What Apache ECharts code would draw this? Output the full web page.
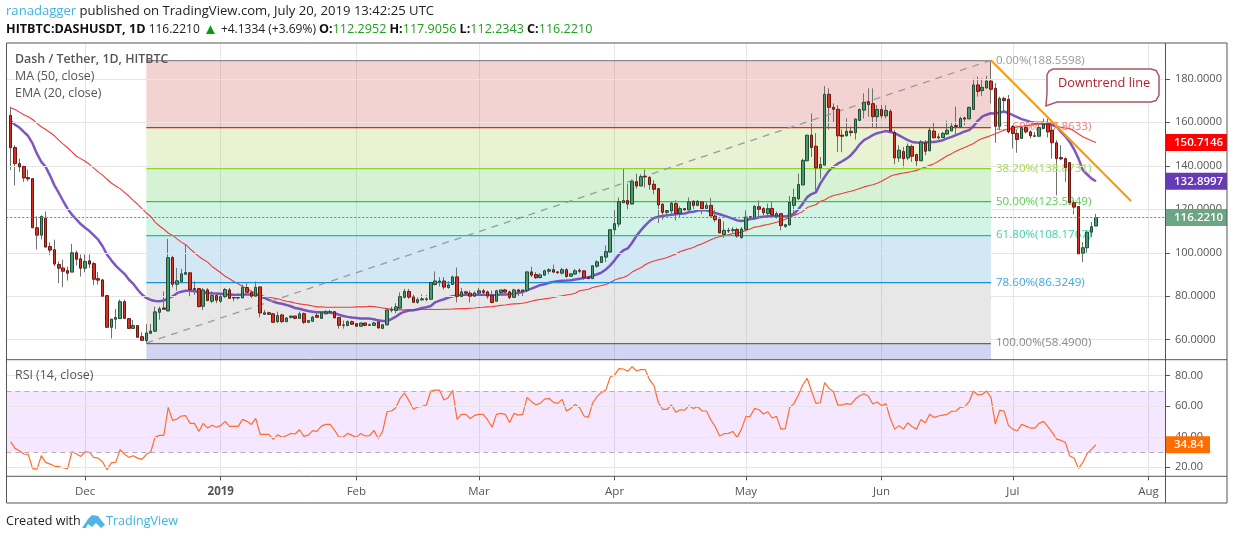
<!DOCTYPE html>
<html><head><meta charset="utf-8">
<style>html,body{margin:0;padding:0;background:#fff}#c{width:1234px;height:540px}</style>
<script src="https://cdn.jsdelivr.net/npm/echarts@6/dist/echarts.min.js"></script>
</head><body><div id="c"></div>
<script>
const opens=[163.2,148.4,141,139.7,134.6,134.1,111.5,108.1,115.8,102.9,101.4,94.6,93,91.8,91.1,100,97.2,92.9,96.3,95,88.1,87.5,80.3,65.7,69.4,69.7,77.5,69.7,65.2,66.5,61.4,59.6,62.9,63.9,72.6,74.6,73.2,97.8,85.5,86.8,90.1,90.8,83.5,83.5,75.4,82.9,77.7,80.3,77.7,79.8,82.9,79.4,79.2,79.2,84,81.8,80,84.3,71.7,72.4,71.9,68.3,71.4,68.3,70.3,70.9,69.8,72,68,68.5,71.2,69.8,71.9,72.7,72.9,70.2,66.6,66.5,68.3,67.4,66.2,67.7,66.6,66.6,68.2,65.2,66.8,73.5,73.5,74.5,79.5,82.2,79.7,77.2,78.3,78.5,78.6,85.4,86.5,87,84,85.4,88.9,79.9,82,81.4,80,81.4,82.5,82,80.3,77.7,81.7,82.9,82,79.5,82.9,82.2,82.6,91.2,90,88.6,89.7,91.5,92.2,91.2,90.6,92.2,89.2,90.2,91.9,91.7,88.9,88.1,93.8,95.5,98,100.3,110.6,113.2,123,124,122.4,132.7,130.7,135.2,134.7,131.5,129.5,122.3,118.6,119.2,122.6,118.1,120.3,119.7,123.7,121.8,123.4,120.4,121.8,116.9,115.4,108.4,110.3,110.2,110.7,107,110.8,116.6,116.1,121.2,120.3,118.1,120.4,116.9,118,112.1,112.8,121.8,124.8,131.2,142.3,154.1,149,139,140.3,172.9,166.9,166,154.1,153.8,155.9,155.2,160.9,165.6,169.5,168.6,162.6,165.9,163,165,155.3,143.6,146.6,143.6,148.9,145.2,142.3,150.6,146.9,156,153.3,153,154.6,156,158.5,157.9,162,161.6,165.9,177.2,174.6,175.8,179,175.6,158.2,171,170.6,158,154.9,152.6,157.6,155.6,153.8,153.6,157.2,159.2,156.4,150.6,143.8,143.3,141.5,123,121.3,99.8,102.3,109.5,112.2952];
const closes=[148.3,141,139.5,134.4,134,111.5,108.1,116.7,102.6,101.2,94.8,92.9,91.5,90.6,100,97,92.9,96,94.8,87.8,87.4,80,65.7,69.5,70.2,77.5,69.8,65.2,66.5,61.1,59.7,63.1,64,72.8,74.2,74,97.7,85.5,87.1,90.3,90.9,83.1,83.1,75.2,82.9,78,80.3,78.2,79.8,83.1,79,79.2,79.4,84,81.8,80,84.1,72.3,72.4,71.7,68,71.1,68.3,70,70.9,69.8,71.9,68,68.8,70.4,70.3,72.4,72.8,72.9,70,66.6,66.8,68.3,67.1,66.2,67.7,66.6,66.9,67.7,65.4,66.9,73.7,74,75.1,79.8,82.2,79.6,77.2,78.4,78.8,78.8,86.3,87,87,84.2,85.2,88.9,79.9,82,81.4,80,81.5,82.5,81.7,80,77.1,82.5,82.9,81.9,79.4,82.9,82.2,82.9,91.2,89.7,88.5,89.8,91.7,92.2,91.1,90.8,92.2,89.1,90.3,91.7,91.5,88.6,88.1,94,95.8,98.2,100.5,110.6,113.4,123.5,124,122.4,132.7,130.7,135,134.9,131.4,129.2,122,118.6,119.4,122.8,118.1,120.3,119.7,123.4,121.8,123.7,120.3,121.8,116.9,115.2,109.1,110.3,110,110.6,107.7,110.9,116.4,116.2,121.4,120,118.4,120.3,117.4,118,112.5,112.9,123.2,125.4,131.4,142.5,154.1,148.4,139,140.6,172.9,166.9,166,153.8,153.6,155.9,155.3,161.5,165.9,169.2,168.2,162.6,165.9,163,165.5,156,143.6,147.2,143.3,149,144.4,142.3,151,146.7,156.4,152.9,152.9,154.9,156.4,158.2,158.1,161.8,161.5,166.9,177.2,174.2,176.1,179,175.2,158.2,171,170,155.6,154.9,152.1,157.6,155.6,153.8,153.6,157.6,159.2,155.6,150.6,143.3,143.2,139.2,123,121,99.5,102.3,109.5,112,116.221];
const lows=[138,131,137.2,132.6,132.9,111.3,101.5,106.1,102.6,98.9,93.9,86,84.1,87.2,91.1,94.1,89,91,93,85.1,85.4,80,65.7,60.6,65,69.7,69.8,65,65.2,61.1,59.6,58.49,62.9,63.9,69.2,74,73.2,84.1,82.6,86.8,90.1,79.5,80.6,74.9,73.7,77.7,76.9,76.8,76.9,79.2,78.8,77.7,78.5,79.2,81.8,79.2,80,70.3,71.4,71.4,68,67.7,67.7,68.3,69.7,69.5,69.8,67.2,68,68.2,70,69.8,71.7,72.4,70,65.1,65.1,66.2,66.9,66,66.2,66.2,66.4,66.6,65.1,65.2,66.8,72.6,72.2,74.2,79,78.8,77,76.5,78,77.7,78.6,84.9,84.5,83.1,83.4,85.4,77.2,79.5,80.8,77.1,80,81.1,81,78.8,76.8,77.7,81,81.5,78.6,79.5,80,80,81.8,88.8,88,88.2,89.4,90.3,90.6,90.3,90,88.5,89.2,89.8,90.6,87.5,88,88.1,93,95.5,95.7,100.3,108.4,111.8,123,119.5,122.4,129.5,130.7,130,129,126.9,113.7,115.2,116.8,118,114.9,116,119.5,119.5,119.8,121.4,117.7,119.5,116.9,114.1,109.1,106.9,109.1,109.2,106.9,106.4,110.8,116.1,116.1,116.4,117.2,116.4,116.4,115.7,110.3,111.5,112.6,118,124.2,131.2,142,144.1,128.7,134.1,140.3,156.7,160.2,146.4,146.4,153.6,153.6,152.1,160.6,161.8,162.6,157.6,157.2,161.8,161.8,156,140.7,141.8,139.2,142.6,141.8,139.5,142.3,144.9,146.9,152.6,152.1,153,154.3,156,154.6,157.9,158.7,161.6,165.9,171.8,172.1,175.6,168.7,150.6,156.4,164.9,154.9,148,146,152.6,154.9,152.6,153.3,153.6,157.2,153,143.3,126.4,142.6,132.6,123,117.7,99.5,95.7,100,107.2,112.2343];
const highs=[167.2,149.5,143.3,140,138.3,134.1,116.7,117.2,119,104.8,106,96,96.8,93.7,104.1,101,99.2,99.2,99.2,95.7,91.2,88,80.3,69.5,74.2,78.5,78.5,69.7,69.1,66.5,63.4,67.2,67.2,75.2,75.2,82.2,106.4,98.6,93,92.6,103.8,90.8,86.9,83.8,83.8,83.8,82.3,81.4,81,83.8,83.8,81.4,81.4,85.4,86,82.6,86.8,84.3,73.7,72.9,72.3,72.9,71.9,70.4,70.9,70.9,72.9,72.5,68.8,71,72.9,73,73.7,73.7,73.2,70.2,68.8,68.9,68.8,67.7,67.7,67.7,67.4,68.3,68.2,66.9,73.7,75.2,76.8,81.8,83.4,83.4,80.7,79.5,80.8,80.5,86.3,91.4,88.8,88.8,86.9,89.5,93.2,83.8,82.6,82.6,82.3,83.8,83.4,82.6,82.6,83,82.9,83.4,82.6,83.4,83.4,82.9,91.2,93.5,91.1,90.6,92.2,92.9,94.5,91.5,93.1,92.9,90.3,92.6,92.8,91.7,89,94,96.5,98.3,103.4,110.6,119.8,125.4,138.7,131.8,133.7,136.4,136.1,138.3,135.2,133.4,129.5,122.9,119.8,123.4,124.1,121.4,120.3,125.4,124.1,124.1,123.8,123.4,125.2,120.3,115.4,114.4,111.5,111.8,111.5,111.8,119.5,116.8,121.8,124.1,121,122.6,123.4,119,118,113,126.1,129.5,136.4,143.3,154.1,164.1,155,144.1,176.7,175.6,168.7,167.9,156.7,161.8,158,161.8,166.4,173.3,175.6,175.6,167.9,167.9,167.9,166,156.4,149.5,148.7,150.3,149.8,145.6,151.8,151.8,157.6,159.8,154.9,155.6,160.7,160.2,167.2,162.6,162.6,167.2,180.2,181,180.2,181.3,188.56,178,171.8,171.8,172.6,158.7,156.4,158.2,158.7,156.4,155.6,158.7,161.8,161.8,158.7,151.8,149.5,143.8,141.5,124.1,121.3,104.9,110.3,114.1,117.9056];
const ma50=[166.7,165.9,164.7,163.5,162.6,161.3,159.5,158,156.7,155.3,153.8,151.8,150,148.3,146.4,144.4,143.3,142.1,140.7,138.9,137.2,135.7,133.8,132.1,130.7,129.5,127.8,126.1,124.1,122.3,120.3,118.3,116.7,114.1,112.3,110.8,109.1,108,106.4,104.9,103.7,101.8,100,98.3,96.9,95.7,93.7,92.3,90.8,89.2,88,86.8,85.7,84.5,83.4,82.3,81.4,80.6,80,79.5,79.2,78.8,78.3,77.7,77.4,76.9,76.5,76.2,75.9,75.5,75.1,75.1,74.9,74.9,74.9,74.9,74.9,74.9,74.9,75.1,75.1,75.1,75.4,75.2,74.9,74.6,74.3,74,73.8,73.7,73.7,73.7,73.8,73.8,73.9,73.9,74,73.9,73.9,74,74,74.1,74.2,74.3,74.3,74.5,74.6,74.8,74.9,75.1,75.2,75.5,75.8,76,76.3,76.5,76.6,76.8,77.2,77.7,78.2,78.5,78.8,79.1,79.4,79.9,80.2,80.6,80.9,81.4,82.5,82.9,83.2,84,84.5,84.9,85.4,86.3,87.5,88.2,88.6,89.5,91.1,92.2,93.1,94.5,95.5,96.2,96.8,97.2,97.8,98.6,99.4,100.6,101.2,101.8,102.4,103.4,104.1,105.1,106,106.8,107.4,107.8,108.3,108.8,109.1,109.5,110.3,110.9,111.8,112.1,112.6,113,113.5,114,114.6,115.4,116.4,117.2,118,119,120.8,121.5,122.1,123.7,124.3,125.5,126.3,126.8,127.3,127.8,128.3,128.9,129.6,130.3,130.8,131.3,132,132.9,134,135.2,135.9,136.3,136.7,137,137.4,137.9,138.6,139.4,140.2,141,142.1,143.4,144.6,145.6,146.7,147.6,148.4,149.3,150.3,151.6,152.6,153.2,153.9,154.8,155.6,156.4,157,157.4,157.9,158.2,158.4,158.7,159,159.2,159.1,158.9,158.6,158.2,157.7,157.4,157.2,156,154.6,153.4,152.4,151.5,150.7146];
const ema20=[160.6,158.9,157.6,155.6,153.7,150.3,145.6,141.8,139.5,135.5,131,127.5,123.8,120.3,117.5,115.4,113.2,111.5,110,108,106,103,99.2,96.5,94.1,92.1,90.3,87.7,85.7,83.1,80.8,79.2,78.3,77.8,77.7,78,79.1,79.9,81.4,82.1,82.5,82.5,82.3,82.1,81.8,81.5,81.4,81.2,81.1,80.9,80.8,80.6,80.6,80.8,80.8,80.8,80.6,80,79.2,78.3,77.5,76.9,76.5,76,75.4,74.6,74.2,73.7,73.2,72.9,72.6,72.6,72.6,72.4,72.2,71.5,70.9,70.5,70.2,70,69.8,69.8,69.7,69.4,68.9,68.6,68.6,69.5,70.6,72,72.9,73.4,73.5,74,74.6,74.9,75.5,77.2,78,78.6,79.4,80,80.3,80.5,80.6,80.6,80.6,80.6,80.6,80.6,80.5,80.6,80.8,80.8,80.9,81.2,81.5,82,82.8,83.5,84.3,85.1,85.5,86.2,86.6,86.9,87.1,87.2,87.4,87.7,88,88.5,88.6,89.4,90.1,90.9,92.3,94.2,96.5,99.2,101.1,102,104.6,107.8,110.3,112.6,114.6,116,116.6,116.9,117.2,117.5,117.7,118,118.1,118.6,118.9,119.4,119.5,119.5,119,118.3,117.7,117.1,116.4,115.7,114.9,114.6,114.9,115.5,115.8,116.3,116.6,116.8,116.9,116.9,116.8,116.7,117.2,118,120,122.6,125.6,127,127.8,131.8,134.9,137.8,139.5,141,142.1,143.3,144.9,147.2,149.9,151.8,152.9,154.1,155,155.5,156,155.6,155,154,152.9,151.8,151,150.7,150.6,150.7,150.9,151,151.3,151.8,152.6,153.3,154.1,154.9,155.8,156.4,158.2,160.7,162.6,163.5,164.2,164.1,164.5,165,164.2,163.3,162.4,161.5,160.9,160.2,159.8,159.8,159.8,159.6,158.9,158.1,155.6,153.6,151,147.6,143.3,138,136,134.1,132.8997];
const rsi14=[36.8,32.4,30.9,28.7,28.5,19.3,18.6,27.6,23.2,22.1,20.8,20.4,19.7,19.1,30.2,28.9,27.1,30.2,29.8,26.5,26,23.6,18.4,23,23.2,31.5,28.7,26.5,27.6,26,25.2,28.5,30,39.8,40.9,40.9,59.3,50.7,51.6,53.6,53.8,48.8,48.8,43.5,48.8,45.7,47.5,46.2,47.3,50.1,46.8,46.8,46.8,51.4,50.1,48.1,52,41.6,41.6,41.6,38.3,41.4,39.6,40.7,42.2,41.8,44.6,40.3,41.1,44,43.5,47,48.1,48.1,44.4,39.8,39.8,42.2,40.9,39.6,42.2,40.5,40.7,44.2,38.9,43.5,56.4,56.9,59,65.2,68.7,63.7,58,59.5,59.9,60.8,70,70.6,70.6,64.1,65.8,70.4,51.4,54.7,54.7,52,54,54.7,54.7,51,46.2,54.7,55.3,54.7,49.4,55.3,54.2,54.7,65.8,63,61,61.9,64.7,65.2,62.6,61.9,64.5,56.9,58.6,61.2,59,53.6,52.7,62.3,66.3,69.1,70.6,79.2,80.5,84.6,84.4,82.9,86,83.1,84,84,77.2,73.7,62.3,58,58,60.8,56,57.7,57.5,60.4,58.6,59.7,56.9,56.9,51,46.6,40.5,42,42.2,43.5,39.6,45,53.2,53.4,58.6,57.7,54.9,56.4,52.3,53.4,45,45.3,59,61.9,67.4,73.9,78.3,70,61.9,62.3,75.5,71.7,69.5,60.8,60.8,61.7,61.2,64.7,66.9,68.2,66.5,61.5,62.8,60.4,61.7,52,45,47.3,45,49.2,46.6,45,51.4,49,54.7,52.7,53.6,54.2,54.7,56.7,56.9,59.3,59.7,63,70,67.4,67.8,70,65.8,48.3,57.3,56.9,47.3,45,43.8,48.1,47,45.7,45.7,48.8,50.1,46.6,42.9,38.5,37.6,36.3,27.4,26.1,19.3,23.2,29.1,31.9,34.84];
const priceTicks=[60,80,100,120,140,160,180];
const rsiTicks=[20,40,60,80];
const tickDates=['2018-12-01','2019-01-01','2019-02-01','2019-03-01','2019-04-01','2019-05-01','2019-06-01','2019-07-01','2019-08-01'];
const tickLabels=['Dec','2019','Feb','Mar','Apr','May','Jun','Jul','Aug'];
const fibPercents=['0.00%','23.60%','38.20%','50.00%','61.80%','78.60%','100.00%'];
const fibPrices=[188.5598,157.8633,138.8731,123.5249,108.1767,86.3249,58.49];
const fibLineColors=['#8a8a8a','#e0281c','#8fd81a','#35c835','#12c890','#1a90d8','#666666'];
const fibLabelColors=['#9a9a9a','rgba(230,80,70,.75)','#a6d84c','#5ccb5c','#45d0a8','#45a5dc','#8a8a8a'];
const fibFills=['rgba(195,35,25,.2)','rgba(145,195,35,.2)','rgba(45,195,40,.2)','rgba(30,200,135,.2)','rgba(30,140,200,.2)','rgba(135,135,135,.2)','rgba(35,40,195,.2)'];
const lastMA=150.7146, lastEMA=132.8997, lastClose=116.2210, lastRSI=34.84;
const PRICE_MIN=50.8, PRICE_MAX=196.5, RSI_MIN=14.1, RSI_MAX=90.5;
const FONT='"Open Sans","Noto Sans",sans-serif';

const dates=[];
for(let i=0;i<266;i++){dates.push(new Date(Date.UTC(2018,10,13+i)).toISOString().slice(0,10));}
const fibStart=dates.indexOf('2018-12-15'), fibEnd=dates.indexOf('2019-06-26');
const isTick=(i,v)=>tickDates.includes(v);
const pad=a=>['-'].concat(a);
const wickData=[['-','-','-','-']].concat(opens.map((o,i)=>[o,closes[i],lows[i],highs[i]]));
const bodyData=[['-','-','-','-']].concat(opens.map((o,i)=>[o,closes[i],Math.min(o,closes[i]),Math.max(o,closes[i])]));

const fibAreas=fibPrices.map((p,k)=>[
  {coord:[fibStart,p],itemStyle:{color:fibFills[k]}},
  {coord:[fibEnd,k<fibPrices.length-1?fibPrices[k+1]:PRICE_MIN]}
]);
const fibLines=fibPrices.map((p,k)=>[
  {coord:[fibStart,p],lineStyle:{color:fibLineColors[k],width:1.25,type:'solid',opacity:1},
   label:{show:true,position:'end',distance:5,formatter:fibPercents[k]+'('+p.toFixed(4)+')',color:fibLabelColors[k],fontFamily:FONT,fontSize:11.6}},
  {coord:[fibEnd,p]}
]);

const tagLabel=(bg,w,txt)=>({show:true,position:'end',distance:0,formatter:txt,color:'#fff',backgroundColor:bg,fontFamily:FONT,fontSize:11.5,fontWeight:600,width:w,height:17,lineHeight:17,align:'left',padding:[0,0,0,8]});
const hidden={color:'transparent',width:0};

const option={
  animation:false,backgroundColor:'#fff',
  textStyle:{fontFamily:FONT},
  grid:[{left:6.3,top:43,width:1159.7,height:316.7},{left:6.3,top:359.7,width:1159.7,height:116.6}],
  xAxis:[0,1].map(g=>({
    type:'category',gridIndex:g,data:dates,boundaryGap:false,
    axisLine:{show:false},
    axisTick:{show:g===1,interval:isTick,length:4,lineStyle:{color:'#555'}},
    axisLabel:{show:g===1,interval:isTick,margin:9,color:'#555',fontFamily:FONT,fontSize:11.5,
      formatter:v=>{const k=tickDates.indexOf(v);return tickLabels[k]==='2019'?'{b|2019}':tickLabels[k];},
      rich:{b:{fontWeight:700,color:'#555',fontFamily:FONT,fontSize:11.5}}},
    splitLine:{show:true,interval:isTick,lineStyle:{color:'#e6e6e6',width:1}}
  })),
  yAxis:[
    {type:'value',gridIndex:0,position:'right',min:PRICE_MIN,max:PRICE_MAX,
     axisLine:{show:false},splitLine:{show:false},
     axisTick:{show:true,length:4,customValues:priceTicks,lineStyle:{color:'#555'}},
     axisLabel:{customValues:priceTicks,margin:9,color:'#555',fontFamily:FONT,fontSize:11,formatter:v=>v.toFixed(4)}},
    {type:'value',gridIndex:1,position:'right',min:RSI_MIN,max:RSI_MAX,
     axisLine:{show:false},splitLine:{show:false},
     axisTick:{show:true,length:4,customValues:rsiTicks,lineStyle:{color:'#555'}},
     axisLabel:{customValues:rsiTicks,margin:9,color:'#555',fontFamily:FONT,fontSize:11,formatter:v=>v.toFixed(2)}}
  ],
  series:[
    {type:'line',name:'priceGrid',xAxisIndex:0,yAxisIndex:0,data:[],z:1,
     markLine:{silent:true,symbol:'none',animation:false,label:{show:false},lineStyle:{color:'#e6e6e6',width:1,type:'solid'},
       data:priceTicks.map(v=>({yAxis:v}))}},
    {type:'line',name:'fib',xAxisIndex:0,yAxisIndex:0,data:[],z:2,
     markArea:{silent:true,animation:false,data:fibAreas},
     markLine:{silent:true,symbol:'none',animation:false,data:fibLines.concat([
       [{coord:[fibStart,fibPrices[6]],lineStyle:{color:'#9a9a9a',width:1.3,type:[7,6]},label:{show:false}},{coord:[fibEnd,fibPrices[0]]}]
     ])}},
    {type:'line',name:'MA 50',xAxisIndex:0,yAxisIndex:0,data:pad(ma50),z:3,showSymbol:false,symbol:'none',lineStyle:{color:'#f03a3a',width:1.1},
     markLine:{silent:true,symbol:'none',animation:false,data:[{yAxis:lastMA,lineStyle:hidden,label:tagLabel('#ff0000',53,lastMA.toFixed(4))}]}},
    {type:'line',name:'EMA 20',xAxisIndex:0,yAxisIndex:0,data:pad(ema20),z:3,showSymbol:false,symbol:'none',lineStyle:{color:'#673ab7',width:2.5,opacity:.85},
     markLine:{silent:true,symbol:'none',animation:false,data:[{yAxis:lastEMA,lineStyle:hidden,label:tagLabel('#673ab7',53,lastEMA.toFixed(4))}]}},
    {type:'candlestick',name:'wick',xAxisIndex:0,yAxisIndex:0,data:wickData,z:4,barWidth:1,
     itemStyle:{color:'#707070',color0:'#707070',borderColor:'#707070',borderColor0:'#707070',borderWidth:1}},
    {type:'candlestick',name:'body',xAxisIndex:0,yAxisIndex:0,data:bodyData,z:5,barWidth:3,
     itemStyle:{color:'#4a9a70',color0:'#d9301f',borderColor:'#1f4d36',borderColor0:'#6b1a12',borderWidth:1},
     markLine:{silent:true,symbol:'none',animation:false,z:6,data:[
       {yAxis:lastClose,lineStyle:{color:'#5b8f73',width:1,type:[2,2]},label:tagLabel('#6ba583',53,lastClose.toFixed(4))},
       [{coord:[fibEnd,fibPrices[0]],lineStyle:{color:'#ff9800',width:2,type:'solid'},label:{show:false}},{coord:[dates.indexOf('2019-07-28'),123.8]}]
     ]}},
    {type:'line',name:'rsiGrid',xAxisIndex:1,yAxisIndex:1,data:[],z:1,
     markLine:{silent:true,symbol:'none',animation:false,label:{show:false},lineStyle:{color:'#e6e6e6',width:1,type:'solid'},
       data:rsiTicks.map(v=>({yAxis:v}))}},
    {type:'line',name:'rsiBand',xAxisIndex:1,yAxisIndex:1,data:[],z:2,
     markArea:{silent:true,animation:false,itemStyle:{color:'rgba(153,21,255,.1)'},data:[[{yAxis:70},{yAxis:30}]]},
     markLine:{silent:true,symbol:'none',animation:false,label:{show:false},lineStyle:{color:'#b9abc0',width:1,type:[5,4]},data:[{yAxis:70},{yAxis:30}]}},
    {type:'line',name:'RSI',xAxisIndex:1,yAxisIndex:1,data:pad(rsi14),z:3,showSymbol:false,symbol:'none',lineStyle:{color:'#ff6d2e',width:1.2},
     markLine:{silent:true,symbol:'none',animation:false,data:[{yAxis:lastRSI,lineStyle:hidden,label:tagLabel('#ff6d00',36,lastRSI.toFixed(2))}]}}
  ],
  graphic:[
    {type:'text',left:6,top:5,z:50,style:{fontFamily:FONT,fontSize:13.1,fill:'#222',rich:{a:{fill:'#3bb3e4',fontFamily:FONT,fontSize:13.1}},text:'{a|ranadagger} published on TradingView.com, July 20, 2019 13:42:25 UTC'}},
    {type:'text',left:6,top:22,z:50,style:{fontFamily:FONT,fontSize:12,fill:'#222',
      rich:{b:{fontWeight:700,fill:'#111',fontFamily:FONT,fontSize:12.6},g:{fill:'#21a121',fontFamily:FONT,fontSize:12.6},t:{fill:'#0a9a0a',fontFamily:FONT,fontSize:15}},
      text:'{b|HITBTC:DASHUSDT, 1D} 116.2210 {t|▲} +4.1334 (+3.69%) {b|O:}{g|112.2952} {b|H:}{g|117.9056} {b|L:}{g|112.2343} {b|C:}{g|116.2210}'}},
    {type:'text',left:15,top:53,z:50,style:{fontFamily:FONT,fontSize:12.4,fontWeight:600,fill:'#555',text:'Dash / Tether, 1D, HITBTC'}},
    {type:'text',left:15,top:70,z:50,style:{fontFamily:FONT,fontSize:12.4,fill:'#555',text:'MA (50, close)'}},
    {type:'text',left:15,top:87,z:50,style:{fontFamily:FONT,fontSize:12.4,fill:'#555',text:'EMA (20, close)'}},
    {type:'text',left:15,top:369,z:50,style:{fontFamily:FONT,fontSize:12.4,fill:'#555',text:'RSI (14, close)'}},
    {type:'text',left:6,top:515,z:50,style:{fontFamily:FONT,fontSize:12.6,fill:'#222',text:'Created with'}},
    {type:'text',left:106,top:515,z:50,style:{fontFamily:FONT,fontSize:12.6,fill:'#3bb3e4',text:'TradingView'}},
    {type:'polygon',z:50,shape:{points:[[82,528],[88,519],[92,515],[98,516],[105,525],[101,528],[96,523],[92,527],[88,524],[86,528]]},style:{fill:'#4fb6e3'}},
    {type:'polygon',z:60,shape:{points:[[1053,69],[1151,69],[1156,70.5],[1159,76],[1159,95],[1156,100.5],[1151,102],[1057,102],[1046,106],[1047,93],[1047,75],[1049,71]]},style:{fill:'#fff',stroke:'#a85862',lineWidth:1.5}},
    {type:'text',left:1058,top:77,z:61,style:{fontFamily:FONT,fontSize:12.8,fill:'#b2202c',text:'Downtrend line'}},
    {type:'rect',z:70,shape:{x:6.5,y:43,width:1220.5,height:460},style:{fill:'none',stroke:'#555',lineWidth:1}},
    {type:'line',z:70,shape:{x1:6.5,y1:359.7,x2:1227,y2:359.7},style:{stroke:'#555',lineWidth:1}},
    {type:'line',z:70,shape:{x1:6.5,y1:476.3,x2:1227,y2:476.3},style:{stroke:'#555',lineWidth:1}},
    {type:'line',z:70,shape:{x1:1165.5,y1:43,x2:1165.5,y2:503},style:{stroke:'#555',lineWidth:1}}
  ]
};
echarts.init(document.getElementById('c')).setOption(option);
</script></body></html>
